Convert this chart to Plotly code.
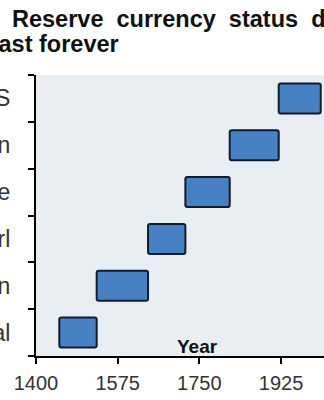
import plotly.graph_objects as go

countries = ["Portugal", "Spain", "Netherl", "France", "Britain", "US"]
start_year = [1450, 1530, 1640, 1720, 1815, 1920]
end_year = [1530, 1640, 1720, 1815, 1920, 2010]
x_ticks = [1400, 1575, 1750, 1925]

duration = [e - s for s, e in zip(start_year, end_year)]

fig = go.Figure()
fig.add_trace(go.Bar(
    y=countries, x=duration, base=start_year, orientation="h",
    width=0.64,
    marker=dict(color="#4781c3", line=dict(color="#111d2c", width=2), cornerradius=2),
    hoverinfo="skip",
))

GAP = "\u00a0\u00a0"
title1 = GAP.join(["Reserve", "currency", "status", "doesn't"])
title2 = "last" + "\u00a0" + "forever"

fig.update_layout(
    width=324, height=400,
    margin=dict(l=36, r=0, t=75, b=44, autoexpand=False),
    paper_bgcolor="white",
    plot_bgcolor="#e9eef2",
    showlegend=False,
    font=dict(family="Liberation Sans, Arial, sans-serif", color="#222"),
    xaxis=dict(
        range=[1400, 2017], tickvals=x_ticks, ticks="outside", ticklen=6,
        tickcolor="black", tickwidth=1.5, automargin=False,
        showline=True, linecolor="black", linewidth=2,
        showgrid=False, zeroline=False, ticklabelstandoff=2,
        tickfont=dict(size=20, color="#333"),
    ),
    yaxis=dict(
        type="category", categoryorder="array", categoryarray=countries,
        tickson="boundaries", ticks="outside", ticklen=6,
        tickcolor="black", tickwidth=1.5, automargin=False,
        showline=True, linecolor="black", linewidth=2,
        showgrid=False, zeroline=False,
        ticklabelstandoff=19,
        tickfont=dict(size=23, color="#333"),
    ),
    annotations=[
        dict(text="<b>" + title1 + "</b>", xref="paper", yref="paper",
             x=(10 - 36) / 288, y=1 + (75 - 34) / 281,
             xanchor="left", yanchor="bottom", showarrow=False,
             font=dict(size=23.5, color="#111")),
        dict(text="<b>" + title2 + "</b>", xref="paper", yref="paper",
             x=(-10 - 36) / 288, y=1 + (75 - 59) / 281,
             xanchor="left", yanchor="bottom", showarrow=False,
             font=dict(size=23.5, color="#111")),
        dict(text="<b>Year</b>", xref="x", yref="paper",
             x=1746, y=0, xanchor="center", yanchor="bottom", yshift=-3,
             showarrow=False, font=dict(size=19, color="#111")),
    ],
)

fig.write_html("out.html")
